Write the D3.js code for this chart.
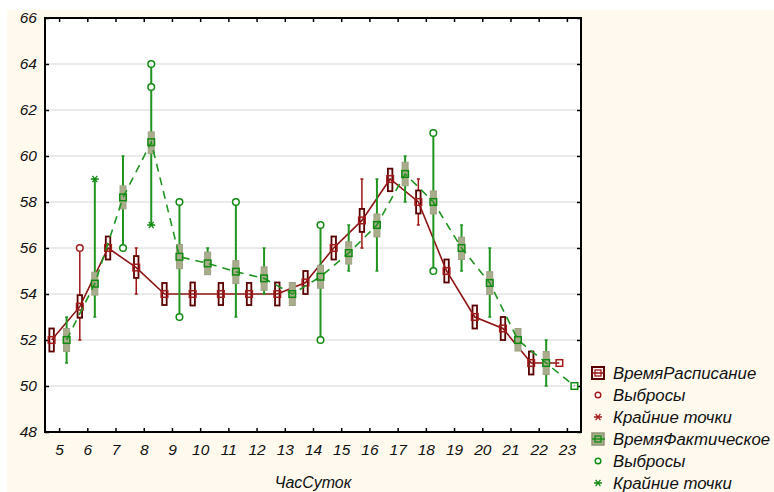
<!DOCTYPE html>
<html>
<head>
<meta charset="utf-8">
<script src="https://cdn.jsdelivr.net/npm/d3@7"></script>
<style>
  body { margin: 0; background: #fff; }
  text { font-family: "Liberation Sans", Arial, sans-serif; font-style: italic; }
</style>
</head>
<body>
<svg id="chart" width="774" height="492"></svg>
<script>
// hours of day (x categories)
const hours = [5, 6, 7, 8, 9, 10, 11, 12, 13, 14, 15, 16, 17, 18, 19, 20, 21, 22, 23];
const yTicks = [48, 50, 52, 54, 56, 58, 60, 62, 64, 66];

// ВремяРасписание
const schedMean  = [52, 53.45, 56, 55.15, 54, 54, 54, 54, 54, 54.5, 56, 57.2, 59, 58, 55, 53, 52.5, 51, 51];
const schedBoxLo = [51.5, 52.97, 55.5, 54.7, 53.52, 53.5, 53.52, 53.52, 53.5, 54, 55.5, 56.7, 58.47, 57.5, 54.5, 52.5, 52, 50.5, 51];
const schedBoxHi = [52.5, 53.95, 56.5, 55.65, 54.48, 54.5, 54.48, 54.48, 54.5, 55, 56.5, 57.7, 59.45, 58.5, 55.5, 53.5, 53, 51.5, 51];
const schedWhLo  = [null, 52, null, 54, null, null, null, null, null, null, null, 56, null, 57, null, null, null, null, null];
const schedWhHi  = [null, 56, null, 56, null, null, null, null, null, null, null, 59, null, 59, null, null, null, null, null];
const schedOutliers = [[6, 56]];
const schedExtremes = [];

// ВремяФактическое
const factMean  = [52, 54.45, 58.2, 60.6, 55.62, 55.33, 54.97, 54.68, 54, 54.75, 55.78, 57, 59.22, 58, 56, 54.48, 52, 51, 50];
const factBoxLo = [51.5, 53.95, 57.7, 60.1, 55.1, 54.84, 54.45, 54.16, 53.5, 54.25, 55.3, 56.48, 58.71, 57.48, 55.5, 53.98, 51.52, 50.5, 50];
const factBoxHi = [52.5, 54.95, 58.7, 61.05, 56.15, 55.82, 55.45, 55.18, 54.5, 55.25, 56.27, 57.48, 59.73, 58.48, 56.47, 54.97, 52.5, 51.5, 50];
const factWhLo  = [51, 53, 56, 57, 53, 55, 53, 54, null, 52, 55, 55, 58, 55, 55, 53, null, 50, null];
const factWhHi  = [53, 59, 60, 64, 58, 56, 58, 56, null, 57, 57, 59, 60, 61, 57, 56, null, 52, null];
const factOutliers = [[7, 56], [8, 63], [8, 64], [9, 53], [9, 58], [11, 58], [14, 52], [14, 57], [18, 55], [18, 61]];
const factExtremes = [[6, 59], [8, 57]];

const legendLabels = ['ВремяРасписание', 'Выбросы', 'Крайние точки', 'ВремяФактическое', 'Выбросы', 'Крайние точки'];

const plot = { left: 45, right: 581, top: 18, bottom: 432 };
const red = { line: '#8e1414', box: '#5a0000', mark: '#a31a1a', whisker: '#a01414' };
const green = { line: '#1f951f', box: '#a9ad8c', boxStroke: '#9da184', mark: '#118a11', whisker: '#1f951f' };

const svg = d3.select('#chart');

// cream background panel
svg.append('rect').attr('x', 7).attr('y', 10).attr('width', 767).attr('height', 482).attr('fill', '#fff9ee');
svg.append('rect')
  .attr('x', plot.left).attr('y', plot.top)
  .attr('width', plot.right - plot.left).attr('height', plot.bottom - plot.top)
  .attr('fill', '#fff');

const x = d3.scalePoint().domain(hours).range([plot.left, plot.right]).padding(0.5);
const y = d3.scaleLinear().domain([48, 66]).range([plot.bottom, plot.top]);

// grid
svg.append('g').selectAll('line')
  .data(yTicks.filter(t => t > 48 && t < 66))
  .join('line')
  .attr('x1', plot.left).attr('x2', plot.right)
  .attr('y1', d => y(d)).attr('y2', d => y(d))
  .attr('stroke', '#d6d6d6').attr('stroke-width', 1);

// axes (ticks point inward)
svg.append('g').attr('transform', `translate(${plot.left},0)`)
  .call(d3.axisLeft(y).tickValues(yTicks).tickSize(-4).tickPadding(8));
svg.append('g').attr('transform', `translate(0,${plot.bottom})`)
  .call(d3.axisBottom(x).tickSize(-4).tickPadding(12));
svg.append('g').attr('transform', `translate(0,${plot.top})`)
  .call(d3.axisTop(x).tickSize(-4).tickFormat(''));
svg.append('g').attr('transform', `translate(${plot.right},0)`)
  .call(d3.axisRight(y).tickValues(yTicks).tickSize(-4).tickFormat(''));

svg.selectAll('.domain').remove();
svg.selectAll('.tick line').attr('stroke', '#000').attr('stroke-width', 1.5);
svg.selectAll('.tick text').attr('font-size', 15.5).attr('fill', '#111')
  .attr('font-family', '"Liberation Sans", Arial, sans-serif').attr('font-style', 'italic');

svg.append('rect')
  .attr('x', plot.left).attr('y', plot.top)
  .attr('width', plot.right - plot.left).attr('height', plot.bottom - plot.top)
  .attr('fill', 'none').attr('stroke', '#000').attr('stroke-width', 2);

svg.append('text')
  .attr('x', (plot.left + plot.right) / 2).attr('y', 488)
  .attr('text-anchor', 'middle').attr('font-size', 16).attr('fill', '#111')
  .text('ЧасСуток');

function asterisk(g, cx, cy, color) {
  const r = 4;
  g.append('path')
    .attr('d', `M${cx - r},${cy}H${cx + r}M${cx - r * 0.6},${cy - r * 0.8}L${cx + r * 0.6},${cy + r * 0.8}M${cx - r * 0.6},${cy + r * 0.8}L${cx + r * 0.6},${cy - r * 0.8}`)
    .attr('stroke', color).attr('stroke-width', 1.3).attr('fill', 'none');
}

function drawSeries(s) {
  const g = svg.append('g');
  const px = h => x(h) + s.dx;
  const idx = hours.map((h, i) => i);

  // whiskers with small caps
  const wh = idx.filter(i => s.whLo[i] != null);
  g.selectAll('.wh').data(wh).join('line')
    .attr('x1', i => px(hours[i])).attr('x2', i => px(hours[i]))
    .attr('y1', i => y(s.whLo[i])).attr('y2', i => y(s.whHi[i]))
    .attr('stroke', s.c.whisker).attr('stroke-width', s.whWidth);
  wh.forEach(i => {
    [s.whLo[i], s.whHi[i]].forEach(v => {
      g.append('line')
        .attr('x1', px(hours[i]) - 1.5).attr('x2', px(hours[i]) + 1.5)
        .attr('y1', y(v)).attr('y2', y(v))
        .attr('stroke', s.c.whisker).attr('stroke-width', 1.5);
    });
  });

  // boxes
  g.selectAll('.box').data(idx.filter(i => s.boxHi[i] > s.boxLo[i])).join('rect')
    .attr('x', i => px(hours[i]) - s.boxW / 2).attr('width', s.boxW)
    .attr('y', i => y(s.boxHi[i])).attr('height', i => y(s.boxLo[i]) - y(s.boxHi[i]))
    .attr('fill', s.boxFill).attr('stroke', s.boxStroke).attr('stroke-width', s.boxStrokeWidth);

  // mean line
  g.append('path')
    .datum(idx)
    .attr('d', d3.line().x(i => px(hours[i])).y(i => y(s.mean[i])))
    .attr('fill', 'none').attr('stroke', s.c.line).attr('stroke-width', 1.6)
    .attr('stroke-dasharray', s.dash);

  // outliers and extremes
  g.selectAll('.out').data(s.outliers).join('circle')
    .attr('cx', d => px(d[0])).attr('cy', d => y(d[1])).attr('r', 3.3)
    .attr('fill', '#fff').attr('stroke', s.c.mark).attr('stroke-width', 1.5);
  s.extremes.forEach(d => asterisk(g, px(d[0]), y(d[1]), s.c.mark));

  // mean markers
  g.selectAll('.mk').data(idx).join('rect')
    .attr('x', i => px(hours[i]) - 3.3).attr('y', i => y(s.mean[i]) - 3.3)
    .attr('width', 6.6).attr('height', 6.6)
    .attr('fill', s.markFill).attr('stroke', s.c.mark).attr('stroke-width', 1.5);
}

drawSeries({
  dx: -7.5, c: red, mean: schedMean, boxLo: schedBoxLo, boxHi: schedBoxHi,
  whLo: schedWhLo, whHi: schedWhHi, outliers: schedOutliers, extremes: schedExtremes,
  boxW: 4.5, boxFill: '#fbf3f3', boxStroke: red.box, boxStrokeWidth: 1.8, whWidth: 1.5, dash: null, markFill: 'none'
});
drawSeries({
  dx: 7.5, c: green, mean: factMean, boxLo: factBoxLo, boxHi: factBoxHi,
  whLo: factWhLo, whHi: factWhHi, outliers: factOutliers, extremes: factExtremes,
  boxW: 6, boxFill: green.box, boxStroke: green.boxStroke, boxStrokeWidth: 1, whWidth: 2, dash: '8,6', markFill: 'none'
});

// legend
const lg = svg.append('g');
const rows = [373, 395, 417, 439, 461, 483];
const lx = 598;
lg.selectAll('text').data(legendLabels).join('text')
  .attr('x', 613).attr('y', (d, i) => rows[i] + 6)
  .attr('font-size', 16.8).attr('fill', '#111').text(d => d);

function legendBox(cy, c, fill, stroke, sw) {
  lg.append('rect').attr('x', lx - 6).attr('y', cy - 6).attr('width', 12).attr('height', 12)
    .attr('fill', fill).attr('stroke', stroke).attr('stroke-width', sw);
  lg.append('line').attr('x1', lx - 6).attr('x2', lx + 7).attr('y1', cy).attr('y2', cy)
    .attr('stroke', c.line).attr('stroke-width', 1.5);
  lg.append('rect').attr('x', lx - 3).attr('y', cy - 3).attr('width', 6).attr('height', 6)
    .attr('fill', 'none').attr('stroke', c.mark).attr('stroke-width', 1.3);
}
legendBox(rows[0], red, '#fbf3f3', red.box, 2);
lg.append('circle').attr('cx', lx).attr('cy', rows[1]).attr('r', 2.8)
  .attr('fill', '#fff').attr('stroke', red.mark).attr('stroke-width', 1.4);
asterisk(lg, lx, rows[2], red.mark);
legendBox(rows[3], green, green.box, '#8f9476', 1.5);
lg.append('circle').attr('cx', lx).attr('cy', rows[4]).attr('r', 2.8)
  .attr('fill', '#fff').attr('stroke', green.mark).attr('stroke-width', 1.4);
asterisk(lg, lx, rows[5], green.mark);
</script>
</body>
</html>
